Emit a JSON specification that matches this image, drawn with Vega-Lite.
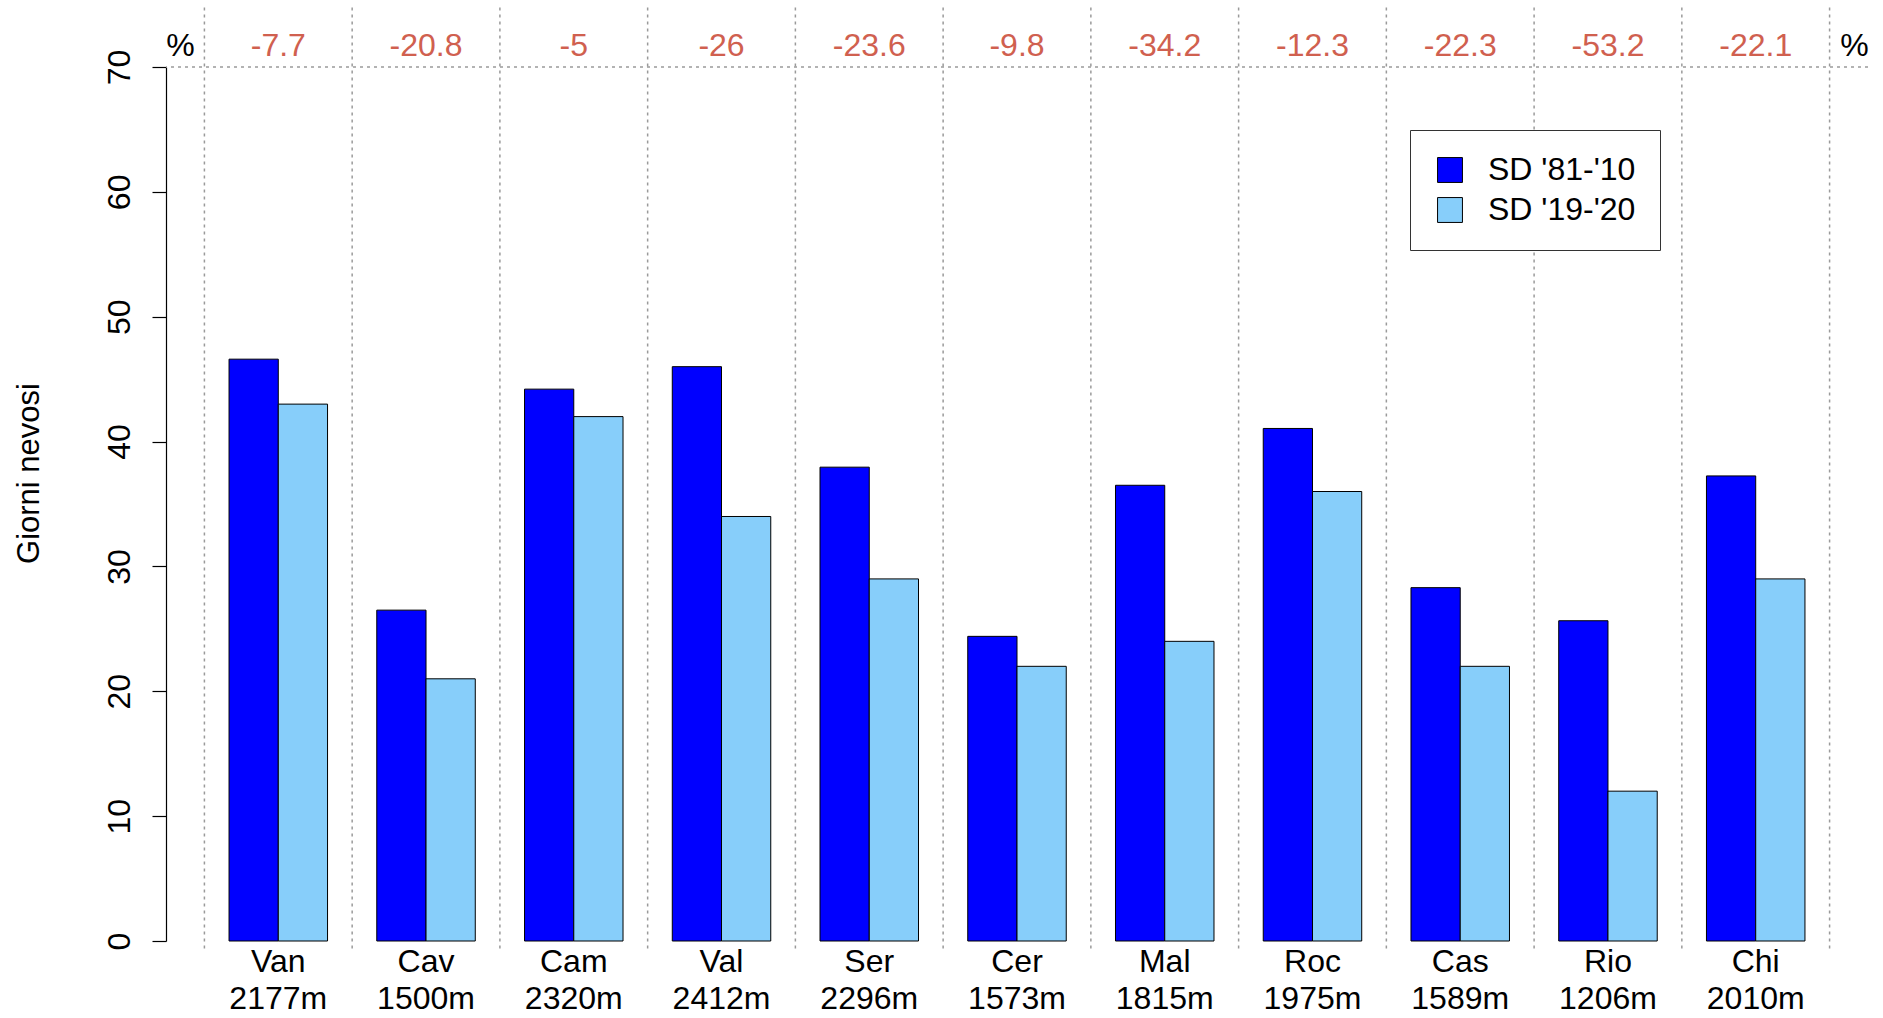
{
  "$schema": "https://vega.github.io/schema/vega-lite/v6.json",
  "autosize": {"type": "none"},
  "width": 1702,
  "height": 874,
  "padding": {"left": 166, "top": 67, "right": 15, "bottom": 77},
  "background": "white",
  "config": {
    "view": {"stroke": null},
    "font": "Liberation Sans",
    "axis": {"grid": false, "labelFont": "Liberation Sans", "titleFont": "Liberation Sans", "labelColor": "black", "titleColor": "black", "titleFontWeight": "normal"}
  },
  "datasets": {
    "bars": [
      {"grp": "Van 2177m", "series": "SD '81-'10", "value": 46.6},
      {"grp": "Van 2177m", "series": "SD '19-'20", "value": 43},
      {"grp": "Cav 1500m", "series": "SD '81-'10", "value": 26.5},
      {"grp": "Cav 1500m", "series": "SD '19-'20", "value": 21},
      {"grp": "Cam 2320m", "series": "SD '81-'10", "value": 44.2},
      {"grp": "Cam 2320m", "series": "SD '19-'20", "value": 42},
      {"grp": "Val 2412m", "series": "SD '81-'10", "value": 46.0},
      {"grp": "Val 2412m", "series": "SD '19-'20", "value": 34},
      {"grp": "Ser 2296m", "series": "SD '81-'10", "value": 37.95},
      {"grp": "Ser 2296m", "series": "SD '19-'20", "value": 29},
      {"grp": "Cer 1573m", "series": "SD '81-'10", "value": 24.4},
      {"grp": "Cer 1573m", "series": "SD '19-'20", "value": 22},
      {"grp": "Mal 1815m", "series": "SD '81-'10", "value": 36.5},
      {"grp": "Mal 1815m", "series": "SD '19-'20", "value": 24},
      {"grp": "Roc 1975m", "series": "SD '81-'10", "value": 41.05},
      {"grp": "Roc 1975m", "series": "SD '19-'20", "value": 36},
      {"grp": "Cas 1589m", "series": "SD '81-'10", "value": 28.3},
      {"grp": "Cas 1589m", "series": "SD '19-'20", "value": 22},
      {"grp": "Rio 1206m", "series": "SD '81-'10", "value": 25.65},
      {"grp": "Rio 1206m", "series": "SD '19-'20", "value": 12},
      {"grp": "Chi 2010m", "series": "SD '81-'10", "value": 37.25},
      {"grp": "Chi 2010m", "series": "SD '19-'20", "value": 29}
    ],
    "pct": [
      {"grp": "Van 2177m", "pct": "-7.7"},
      {"grp": "Cav 1500m", "pct": "-20.8"},
      {"grp": "Cam 2320m", "pct": "-5"},
      {"grp": "Val 2412m", "pct": "-26"},
      {"grp": "Ser 2296m", "pct": "-23.6"},
      {"grp": "Cer 1573m", "pct": "-9.8"},
      {"grp": "Mal 1815m", "pct": "-34.2"},
      {"grp": "Roc 1975m", "pct": "-12.3"},
      {"grp": "Cas 1589m", "pct": "-22.3"},
      {"grp": "Rio 1206m", "pct": "-53.2"},
      {"grp": "Chi 2010m", "pct": "-22.1"}
    ]
  },
  "layer": [
    {
      "data": {"name": "pct"},
      "mark": {"type": "rule", "color": "#9a9a9a", "strokeDash": [3, 4], "strokeWidth": 1.5},
      "encoding": {
        "x": {"field": "grp", "type": "nominal", "sort": null, "bandPosition": 0, "title": null},
        "y": {"datum": -0.6, "type": "quantitative"},
        "y2": {"datum": 75}
      }
    },
    {
      "data": {"name": "pct"},
      "transform": [{"filter": "datum.grp === 'Chi 2010m'"}],
      "mark": {"type": "rule", "color": "#9a9a9a", "strokeDash": [3, 4], "strokeWidth": 1.5},
      "encoding": {
        "x": {"field": "grp", "type": "nominal", "sort": null, "bandPosition": 1, "title": null},
        "y": {"datum": -0.6, "type": "quantitative"},
        "y2": {"datum": 75}
      }
    },
    {
      "data": {"values": [{"level": 70}]},
      "mark": {"type": "rule", "color": "#9a9a9a", "strokeDash": [3, 4], "strokeWidth": 1.5},
      "encoding": {
        "y": {"field": "level", "type": "quantitative"}
      }
    },
    {
      "data": {"name": "bars"},
      "mark": {"type": "bar", "stroke": "black", "strokeWidth": 1},
      "encoding": {
        "x": {
          "field": "grp", "type": "nominal", "sort": null, "title": null,
          "scale": {"paddingInner": 0, "paddingOuter": 0.26},
          "axis": {"domain": false, "ticks": false, "labelAngle": 0, "labelAlign": "center", "labelFontSize": 32, "labelPadding": 5, "labelLineHeight": 37, "labelBaseline": "top", "labelExpr": "split(datum.label, ' ')"}
        },
        "xOffset": {"field": "series", "type": "nominal", "sort": ["SD '81-'10", "SD '19-'20"], "scale": {"paddingInner": 0, "paddingOuter": 0.5}},
        "y": {
          "field": "value", "type": "quantitative",
          "scale": {"domain": [0, 70], "nice": false},
          "axis": {"values": [0, 10, 20, 30, 40, 50, 60, 70], "title": "Giorni nevosi", "titleFontSize": 31, "titlePadding": 58, "titleY": 406, "labelAngle": -90, "labelAlign": "center", "labelBaseline": "bottom", "labelFontSize": 32, "labelPadding": 16, "tickSize": 14, "tickColor": "black", "domainColor": "black", "tickWidth": 1.2, "domainWidth": 1.2}
        },
        "color": {
          "field": "series", "type": "nominal", "sort": ["SD '81-'10", "SD '19-'20"],
          "scale": {"domain": ["SD '81-'10", "SD '19-'20"], "range": ["#0000FF", "#87CEFA"]},
          "legend": {"title": null, "orient": "none", "legendX": 1244, "legendY": 63, "padding": 24, "strokeColor": "#333333", "fillColor": "white", "symbolType": "square", "symbolSize": 620, "symbolStrokeColor": "black", "symbolStrokeWidth": 1, "symbolOpacity": 1, "labelFontSize": 32, "labelFont": "Liberation Sans", "labelOffset": 22, "rowPadding": 8, "labelColor": "black"}
        }
      }
    },
    {
      "data": {"name": "pct"},
      "mark": {"type": "text", "color": "#D0604F", "fontSize": 32, "baseline": "middle", "align": "center"},
      "encoding": {
        "x": {"field": "grp", "type": "nominal", "sort": null, "title": null},
        "y": {"datum": 71.7, "type": "quantitative"},
        "text": {"field": "pct"}
      }
    },
    {
      "data": {"name": "pct"},
      "transform": [{"filter": "datum.grp === 'Van 2177m'"}],
      "mark": {"type": "text", "color": "black", "fontSize": 32, "baseline": "middle", "align": "center", "dx": -24},
      "encoding": {
        "x": {"field": "grp", "type": "nominal", "sort": null, "bandPosition": 0, "title": null},
        "y": {"datum": 71.7, "type": "quantitative"},
        "text": {"value": "%"}
      }
    },
    {
      "data": {"name": "pct"},
      "transform": [{"filter": "datum.grp === 'Chi 2010m'"}],
      "mark": {"type": "text", "color": "black", "fontSize": 32, "baseline": "middle", "align": "center", "dx": 25},
      "encoding": {
        "x": {"field": "grp", "type": "nominal", "sort": null, "bandPosition": 1, "title": null},
        "y": {"datum": 71.7, "type": "quantitative"},
        "text": {"value": "%"}
      }
    }
  ]
}
